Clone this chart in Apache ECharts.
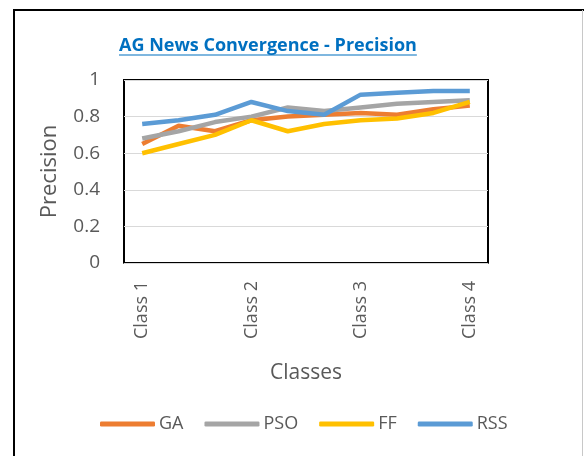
<!DOCTYPE html>
<html>
<head>
<meta charset="utf-8">
<script src="https://cdn.jsdelivr.net/npm/echarts@6/dist/echarts.min.js"></script>
<style>
  html, body { margin: 0; padding: 0; background: #fff; }
  #chart { width: 584px; height: 456px; }
</style>
</head>
<body>
<div id="chart"></div>
<script>
// x categories: 10 steps, only every third one gets a label
var xLabels = ['Class 1', '', '', 'Class 2', '', '', 'Class 3', '', '', 'Class 4'];
var yTicks = [0, 0.2, 0.4, 0.6, 0.8, 1];

var gaValues  = [0.65, 0.75, 0.72, 0.78, 0.80, 0.81, 0.82, 0.81, 0.84, 0.86];
var psoValues = [0.68, 0.72, 0.77, 0.80, 0.85, 0.83, 0.85, 0.87, 0.88, 0.89];
var ffValues  = [0.60, 0.65, 0.70, 0.78, 0.72, 0.76, 0.78, 0.79, 0.82, 0.88];
var rssValues = [0.76, 0.78, 0.81, 0.88, 0.83, 0.81, 0.92, 0.93, 0.94, 0.94];

var seriesNames = ['GA', 'PSO', 'FF', 'RSS'];
var seriesColors = ['#ED7D31', '#A5A5A5', '#FFC000', '#5B9BD5'];
var seriesValues = [gaValues, psoValues, ffValues, rssValues];

var font = 'Open Sans';
var titleText = 'AG News Convergence - Precision';
var titleX = 119;

// measure title so the underline fits it
var ctx = document.createElement('canvas').getContext('2d');
ctx.font = 'bold 18px "Open Sans"';
var titleWidth = ctx.measureText(titleText).width;

var myChart = echarts.init(document.getElementById('chart'));

var option = {
  animation: false,
  textStyle: { fontFamily: font },
  title: {
    text: titleText,
    left: titleX - 5,
    top: 32,
    textStyle: { color: '#0070C0', fontSize: 18, fontWeight: 'bold', fontFamily: font }
  },
  graphic: [
    // outer frame of the chart box
    { type: 'rect', shape: { x: 14, y: 10, width: 580, height: 470 },
      style: { fill: 'none', stroke: '#000', lineWidth: 2 }, silent: true },
    { type: 'line', shape: { x1: 582.5, y1: 10, x2: 582.5, y2: 456 },
      style: { stroke: '#C8C8C8', lineWidth: 1 }, silent: true },
    // underline of the title
    { type: 'line', shape: { x1: titleX, y1: 55, x2: titleX + titleWidth, y2: 55 },
      style: { stroke: '#0070C0', lineWidth: 1.2 }, silent: true }
  ],
  grid: {
    left: 124, right: 96, top: 80, bottom: 193,
    show: true, borderColor: '#000', borderWidth: 2
  },
  legend: {
    top: 410,
    left: 95,
    icon: 'roundRect',
    itemWidth: 55,
    itemHeight: 5,
    itemGap: 21,
    data: seriesNames,
    textStyle: { color: '#595959', fontSize: 18, fontFamily: font, padding: [0, 0, 0, -1] }
  },
  xAxis: {
    type: 'category',
    data: xLabels,
    name: 'Classes',
    nameLocation: 'middle',
    nameGap: 100,
    nameTextStyle: { color: '#595959', fontSize: 21, fontFamily: font },
    axisLine: { show: true, lineStyle: { color: '#D9D9D9', width: 1 } },
    axisTick: { show: false },
    axisLabel: { interval: 0, rotate: 90, margin: 18, color: '#595959', fontSize: 18, fontFamily: font },
    splitLine: { show: false }
  },
  yAxis: {
    type: 'value',
    min: yTicks[0],
    max: yTicks[yTicks.length - 1],
    interval: 0.2,
    name: 'Precision',
    nameLocation: 'middle',
    nameGap: 63,
    nameTextStyle: { color: '#595959', fontSize: 22, fontFamily: font },
    axisLine: { show: false },
    axisTick: { show: false },
    axisLabel: { margin: 24, color: '#595959', fontSize: 19, fontFamily: font },
    splitLine: { lineStyle: { color: '#D9D9D9', width: 1 } }
  },
  series: seriesNames.map(function (name, i) {
    return {
      name: name,
      type: 'line',
      data: seriesValues[i],
      symbol: 'none',
      color: seriesColors[i],
      lineStyle: { width: 4.5, color: seriesColors[i] }
    };
  })
};

myChart.setOption(option);
</script>
</body>
</html>
